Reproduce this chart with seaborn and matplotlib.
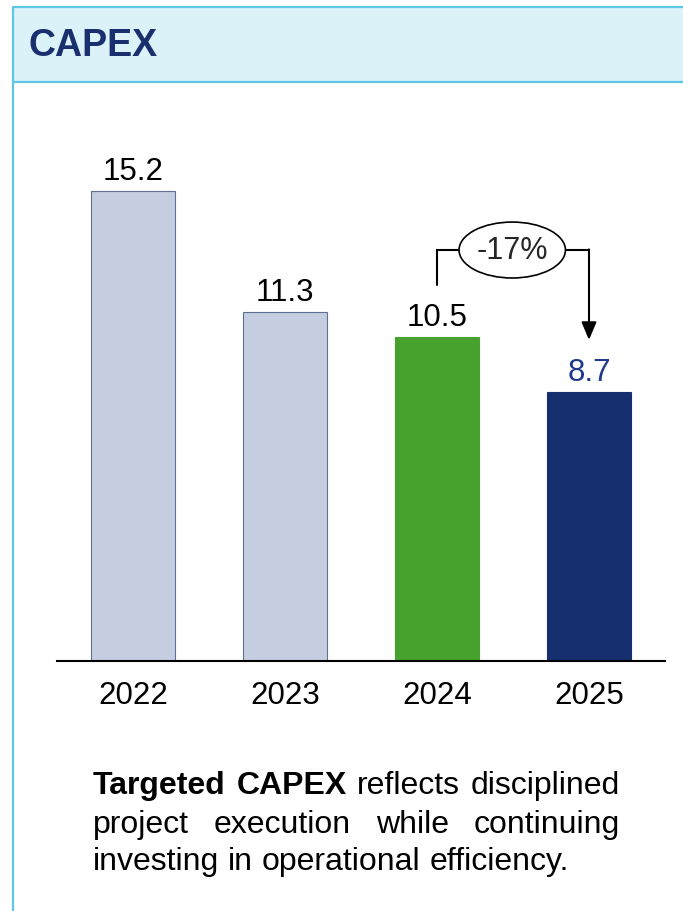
import numpy as np
import pandas as pd
import matplotlib
matplotlib.use("Agg")
import matplotlib.pyplot as plt
import seaborn as sns
from matplotlib.patches import Ellipse, Rectangle
from matplotlib.lines import Line2D

# data
years = ["2022", "2023", "2024", "2025"]
capex = [15.2, 11.3, 10.5, 8.7]
bar_colors = ["#C4CEE0", "#C4CEE0", "#46A12E", "#162F6F"]
label_colors = ["black", "black", "black", "#1F3A8A"]
change_label = "-17%"

sns.set_theme(style="white")
plt.rcParams["font.family"] = ["Liberation Sans", "DejaVu Sans"]

W, H = 683, 912
fig = plt.figure(figsize=(W / 100, H / 100), dpi=100)

# frame and header band
border = "#5CC8E2"
fig.patches.append(Rectangle((13 / W, 1 - 83 / H), 1, 75 / H, transform=fig.transFigure,
                             facecolor="#DCF2F9", edgecolor="none", zorder=0))
for xs, ys in [([13, 13], [8, 912]), ([13, 683], [8, 8]), ([13, 683], [83, 83])]:
    fig.lines.append(Line2D([x / W for x in xs], [1 - y / H for y in ys],
                            transform=fig.transFigure, color=border, lw=1.6))
fig.text(28 / W, 1 - 46 / H, "CAPEX", fontsize=27, fontweight="bold",
         color="#1A2F6E", va="center", ha="left")

# bar chart
ax = fig.add_axes([57 / W, 1 - 662 / H, 608 / W, 562 / H])
df = pd.DataFrame({"year": years, "capex": capex})
sns.barplot(data=df, x="year", y="capex", hue="year", palette=bar_colors,
            legend=False, width=0.55, saturation=1, ax=ax,
            edgecolor="#5F7092", linewidth=0.8)
for bar, c in zip(ax.patches, bar_colors):
    if c != "#C4CEE0":
        bar.set_edgecolor(c)
ax.set_xlim(-0.5, 3.5)
ax.set_ylim(0, 562 / 30.9)
ax.set_xlabel("")
ax.set_ylabel("")
ax.set_yticks([])
for s in ["top", "left", "right"]:
    ax.spines[s].set_visible(False)
ax.spines["bottom"].set_color("black")
ax.spines["bottom"].set_linewidth(1.5)
ax.tick_params(axis="x", length=0, pad=14, labelsize=22.5, labelcolor="black")

for i, (v, c) in enumerate(zip(capex, label_colors)):
    ax.annotate(f"{v}", (i, v), xytext=(0, 3.5), textcoords="offset points",
                ha="center", va="bottom", fontsize=22.5, color=c)

# change bracket 2024 -> 2025
y_top = 13.3
ax.plot([2, 2, 2.15], [12.17, y_top, y_top], color="black", lw=1.5, solid_joinstyle="miter")
ax.plot([2.85, 3], [y_top, y_top], color="black", lw=1.5)
ax.annotate("", xy=(3, 10.39), xytext=(3, y_top + 0.02),
            arrowprops=dict(arrowstyle="-|>,head_length=0.9,head_width=0.38",
                            color="black", lw=1.5, shrinkA=0, shrinkB=0))
ax.add_patch(Ellipse((2.495, y_top), 0.70, 1.81, facecolor="white",
                     edgecolor="black", lw=1.2, zorder=3))
ax.text(2.495, y_top, change_label, ha="center", va="center", fontsize=22, zorder=4)

# justified commentary text
renderer = fig.canvas.get_renderer()
x0, x1 = 93, 620
lines = [
    [("Targeted", "bold"), ("CAPEX", "bold"), ("reflects", "normal"), ("disciplined", "normal")],
    [("project", "normal"), ("execution", "normal"), ("while", "normal"), ("continuing", "normal")],
    [("investing", "normal"), ("in", "normal"), ("operational", "normal"), ("efficiency.", "normal")],
]
line_y = [786, 825, 862]
for li, (words, yy) in enumerate(zip(lines, line_y)):
    texts = [fig.text(0, 1 - yy / H, w, fontsize=23, fontweight=wt, va="center",
                      ha="left", color="black") for w, wt in words]
    widths = [t.get_window_extent(renderer).width for t in texts]
    if li < len(lines) - 1:
        gap = (x1 - x0 - sum(widths)) / (len(words) - 1)
    else:
        gap = 0.278 * 23 * 100 / 72
    x = x0
    for t, wd in zip(texts, widths):
        t.set_x(x / W)
        x += wd + gap

fig.savefig("out.png", dpi=100)
